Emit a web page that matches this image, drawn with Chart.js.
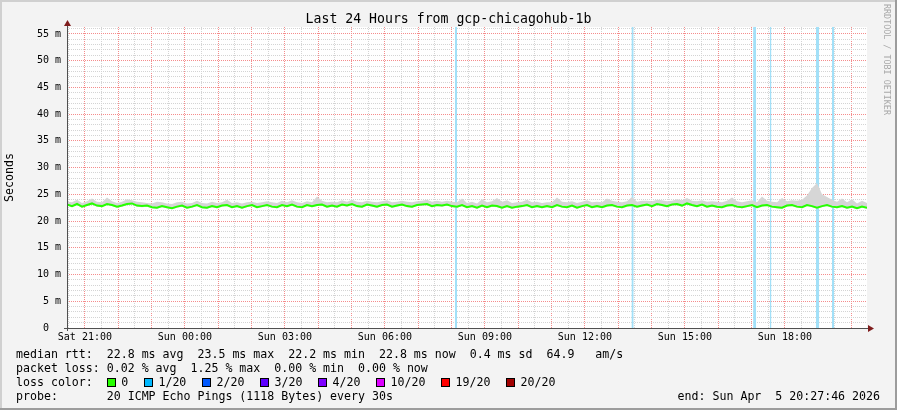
<!DOCTYPE html>
<html><head><meta charset="utf-8">
<script src="https://cdn.jsdelivr.net/npm/chart.js@4/dist/chart.umd.min.js"></script>
<style>
html,body{margin:0;padding:0;background:#f3f3f3;}
#wrap{position:relative;width:897px;height:410px;overflow:hidden;}
canvas{position:absolute;left:0;top:0;}
.t{position:absolute;font-family:'DejaVu Sans Mono',monospace;font-size:11.6px;line-height:14px;white-space:pre;color:#000;}
.sq{display:inline-block;width:9px;height:9px;box-sizing:border-box;border:1px solid #000;vertical-align:-1px;margin-right:5.6px;}
.it{display:inline-block;margin-right:15.5px;}
#ttl{position:absolute;left:0;top:11px;width:897px;text-align:center;font-family:'DejaVu Sans Mono',monospace;font-size:13.2px;line-height:16px;color:#000;white-space:pre;}
#wm{position:absolute;left:882px;top:4px;writing-mode:vertical-rl;font-family:'DejaVu Sans Mono',monospace;font-size:8.4px;color:#a8a8a8;white-space:pre;}
</style></head><body>
<div id="wrap">
<canvas id="c" width="897" height="410"></canvas>
<div id="ttl"></div>
<div id="wm"></div>
<div class="t" id="l1" style="left:16px;top:347px"></div>
<div class="t" id="l2" style="left:16px;top:361px"></div>
<div class="t" id="l3" style="left:16px;top:375px"></div>
<div class="t" id="l4" style="left:16px;top:389px"></div>
<div class="t" id="l5" style="right:17px;top:389px"></div>
</div>
<script>
// ---- data ----
const titleText = 'Last 24 Hours from gcp-chicagohub-1b';
const yAxisTitle = 'Seconds';
const sampleStepMin = 9;           // minutes between samples, sample 0 at start of window
const windowMinutes = 1440;        // 24 hours
const firstHourTick = 32.2333;     // Sat 21:00 minutes after window start (20:27:46)
const xTickLabels = ['Sat 21:00','Sun 00:00','Sun 03:00','Sun 06:00','Sun 09:00','Sun 12:00','Sun 15:00','Sun 18:00'];
const yMaxMs = 56.3;

const medianRtt = [
23.1,22.8,23.2,22.7,23.0,23.3,22.9,22.8,23.2,23.0,22.7,22.9,23.2,23.3,22.9,22.8,
22.9,22.6,22.5,22.8,22.6,22.4,22.7,22.9,22.5,22.7,23.0,22.6,22.5,22.8,22.6,22.9,23.0,22.6,22.8,22.5,
22.8,23.0,22.6,22.8,23.0,22.7,22.6,23.0,22.8,23.1,22.7,22.6,23.0,22.8,23.0,23.1,22.7,22.9,22.7,23.1,
22.9,23.2,22.8,22.7,23.1,22.9,22.7,23.0,23.1,22.7,22.9,23.1,22.8,22.7,23.0,23.1,23.2,22.8,23.0,22.9,
23.1,22.8,22.7,23.0,22.6,22.8,22.5,22.9,22.6,22.9,22.8,22.5,22.8,22.5,22.7,22.8,23.0,22.6,22.8,22.6,
22.8,22.6,23.0,22.7,22.6,22.9,22.5,22.8,23.0,22.6,22.8,22.6,22.9,23.0,22.7,22.6,22.9,23.0,22.7,22.9,
23.1,22.8,23.2,23.0,22.8,23.1,23.2,22.9,23.3,23.0,22.8,23.1,22.7,22.9,22.7,22.6,22.9,23.0,22.7,22.6,
22.8,23.0,22.6,22.9,23.0,22.7,22.6,22.5,22.9,23.0,22.7,22.6,23.0,22.8,22.5,22.8,23.0,22.7,22.6,22.8,
22.5,22.7,22.4,22.7,22.5];

const smokeMax = [
23.6,23.5,24.0,23.4,23.7,24.2,23.6,23.5,24.4,23.7,23.4,23.6,24.1,23.9,23.6,23.5,
23.4,23.3,23.6,23.5,23.3,23.2,23.5,23.6,23.3,23.4,23.8,23.4,23.3,23.6,23.4,23.5,24.0,23.4,23.5,23.3,
23.5,23.6,23.4,23.5,23.7,23.5,23.4,23.8,23.5,23.9,23.5,23.4,23.7,23.5,24.6,23.8,23.5,23.6,23.5,23.9,
23.6,24.0,23.6,23.5,23.8,23.6,23.5,23.7,23.9,23.5,23.6,23.8,23.6,23.5,23.7,23.8,24.0,23.6,23.8,23.6,
23.8,23.6,23.5,24.2,23.4,23.6,23.3,24.1,23.5,23.7,24.3,23.6,23.9,23.4,23.5,23.6,24.0,23.5,23.6,23.4,
23.5,23.5,24.4,23.6,23.5,23.7,23.4,23.6,23.9,23.5,23.6,23.5,24.2,23.8,23.6,23.5,23.7,24.5,23.6,23.8,
23.8,23.7,24.0,23.9,23.7,23.8,24.1,23.9,24.3,23.8,23.7,23.9,23.6,23.7,23.6,23.5,23.8,24.4,23.7,23.5,
23.7,23.9,23.5,24.6,23.8,23.6,23.5,24.3,23.7,23.9,23.8,24.0,24.8,26.2,27.1,25.0,24.5,24.0,23.6,24.2,
23.5,24.1,23.3,23.8,23.4];

const smokeMin = [
22.9,22.6,23.0,22.5,22.8,23.1,22.7,22.6,23.0,22.8,22.5,22.7,23.0,23.1,22.7,22.6,
22.7,22.4,22.3,22.6,22.4,22.2,22.5,22.7,22.3,22.5,22.8,22.4,22.3,22.6,22.4,22.7,22.8,22.4,22.6,22.3,
22.6,22.8,22.4,22.6,22.8,22.5,22.4,22.8,22.6,22.9,22.5,22.4,22.8,22.6,22.8,22.9,22.5,22.7,22.5,22.9,
22.7,23.0,22.6,22.5,22.9,22.7,22.5,22.8,22.9,22.5,22.7,22.9,22.6,22.5,22.8,22.9,23.0,22.6,22.8,22.7,
22.9,22.6,22.5,22.8,22.4,22.6,22.3,22.7,22.4,22.7,22.6,22.3,22.6,22.3,22.5,22.6,22.8,22.4,22.6,22.4,
22.6,22.4,22.8,22.5,22.4,22.7,22.3,22.6,22.8,22.4,22.6,22.4,22.7,22.8,22.5,22.4,22.7,22.8,22.5,22.7,
22.9,22.6,23.0,22.8,22.6,22.9,23.0,22.7,23.1,22.8,22.6,22.9,22.5,22.7,22.5,22.4,22.7,22.8,22.5,22.4,
22.6,22.8,22.4,22.7,22.8,22.5,22.4,22.3,22.7,22.8,22.5,22.4,22.8,22.6,22.3,22.6,22.8,22.5,22.4,22.6,
22.3,22.5,22.2,22.5,22.3];

// loss periods (minutes after window start), all at 1/20 loss
const lossStart = [698.4, 1016, 1235, 1265, 1348, 1377];
const lossEnd   = [702.0, 1020, 1240.5, 1268, 1354, 1381];

const lossLevels = ['0','1/20','2/20','3/20','4/20','10/20','19/20','20/20'];
const lossColors = ['#26ff00','#00b8ff','#0059ff','#5e00ff','#7e00ff','#dd00ff','#ff0000','#a10000'];

const statsLine1 = 'median rtt:  22.8 ms avg  23.5 ms max  22.2 ms min  22.8 ms now  0.4 ms sd  64.9   am/s';
const statsLine2 = 'packet loss: 0.02 % avg  1.25 % max  0.00 % min  0.00 % now';
const probeLine  = 'probe:       20 ICMP Echo Pings (1118 Bytes) every 30s';
const endLine    = 'end: Sun Apr  5 20:27:46 2026';
const watermark  = 'RRDTOOL / TOBI OETIKER';

// ---- text ----
document.getElementById('ttl').textContent = titleText;
document.getElementById('l1').textContent = statsLine1;
document.getElementById('l2').textContent = statsLine2;
document.getElementById('l4').textContent = probeLine;
document.getElementById('l5').textContent = endLine;
document.getElementById('wm').textContent = watermark;
const l3 = document.getElementById('l3');
l3.appendChild(document.createTextNode('loss color:  '));
lossLevels.forEach((lv, i) => {
  const it = document.createElement('span'); it.className = 'it';
  const sq = document.createElement('span'); sq.className = 'sq'; sq.style.background = lossColors[i];
  it.appendChild(sq); it.appendChild(document.createTextNode(lv));
  l3.appendChild(it);
});

// ---- build datasets ----
const pts = arr => arr.map((v, i) => ({x: i * sampleStepMin, y: v}));
const lossPts = [];
lossStart.forEach((s, i) => {
  lossPts.push({x: s, y: yMaxMs}, {x: lossEnd[i], y: yMaxMs}, {x: lossEnd[i], y: null});
});

const MONO = "'DejaVu Sans Mono', monospace";
const RED_GRID = '#f58c8c';
const GRAY_GRID = '#d4d4d4';

const deco = {
  id: 'deco',
  beforeDraw(chart) {
    const {ctx, chartArea: a, width: w, height: h} = chart;
    ctx.save();
    ctx.fillStyle = '#f3f3f3'; ctx.fillRect(0, 0, w, h);
    ctx.fillStyle = '#ffffff'; ctx.fillRect(a.left, a.top, a.right - a.left, a.bottom - a.top);
    ctx.fillStyle = '#d0d0d0'; ctx.fillRect(0, 0, w, 2); ctx.fillRect(0, 0, 2, h);
    ctx.fillStyle = '#9c9c9c'; ctx.fillRect(0, h - 2, w, 2); ctx.fillRect(w - 2, 0, 2, h);
    ctx.restore();
  },
  afterDraw(chart) {
    const {ctx, chartArea: a} = chart;
    const x0 = Math.round(a.left) + 0.5, y0 = Math.round(a.bottom) + 0.5;
    ctx.save();
    ctx.strokeStyle = '#505050'; ctx.lineWidth = 1;
    ctx.beginPath();
    ctx.moveTo(x0, a.top - 4); ctx.lineTo(x0, a.bottom + 3);
    ctx.moveTo(a.left - 3, y0); ctx.lineTo(a.right + 4, y0);
    ctx.stroke();
    ctx.fillStyle = '#7f1d1d';
    ctx.beginPath();
    ctx.moveTo(x0 - 3.5, a.top - 1); ctx.lineTo(x0 + 3.5, a.top - 1); ctx.lineTo(x0, a.top - 7); ctx.closePath(); ctx.fill();
    ctx.beginPath();
    ctx.moveTo(a.right + 1, y0 - 3.5); ctx.lineTo(a.right + 1, y0 + 3.5); ctx.lineTo(a.right + 7, y0); ctx.closePath(); ctx.fill();
    ctx.restore();
  }
};

new Chart(document.getElementById('c'), {
  type: 'line',
  data: {
    datasets: [
      {label: 'median', data: pts(medianRtt), borderColor: '#26ff00', borderWidth: 2, pointRadius: 0, fill: false, order: 1},
      {label: 'smokeHi', data: pts(smokeMax), borderColor: 'transparent', borderWidth: 1, pointRadius: 0, fill: '+1', backgroundColor: '#d6d6d6', order: 2},
      {label: 'smokeLo', data: pts(smokeMin), borderColor: 'transparent', borderWidth: 1, pointRadius: 0, fill: false, order: 2},
      {label: 'loss', data: lossPts, borderColor: 'transparent', borderWidth: 1, pointRadius: 0, fill: 'origin', spanGaps: false, backgroundColor: '#a2e0f8', order: 3}
    ]
  },
  options: {
    responsive: false,
    animation: false,
    events: [],
    layout: {padding: {left: 0, right: 30, top: 27, bottom: 62}},
    plugins: {
      legend: {display: false},
      tooltip: {enabled: false},
      title: {display: false}
    },
    scales: {
      x: {
        type: 'linear', min: 0, max: windowMinutes,
        afterFit(s) { s.height = 20; },
        afterBuildTicks(s) {
          const t = [];
          for (let v = firstHourTick - 30; v < windowMinutes; v += 30) t.push({value: v});
          s.ticks = t;
        },
        ticks: {
          autoSkip: false, maxRotation: 0, minRotation: 0, padding: 3, color: '#000',
          font: {family: MONO, size: 10},
          callback(v) {
            const k = (v - firstHourTick) / 180;
            const r = Math.round(k);
            return (Math.abs(k - r) < 1e-6 && r >= 0 && r < xTickLabels.length) ? xTickLabels[r] : '';
          }
        },
        grid: {
          drawTicks: false, lineWidth: 1,
          color(c) {
            const k = (c.tick.value - firstHourTick) / 60;
            return Math.abs(k - Math.round(k)) < 1e-6 ? RED_GRID : GRAY_GRID;
          }
        },
        border: {display: false, dash: [1, 1]}
      },
      y: {
        type: 'linear', min: 0, max: yMaxMs,
        afterFit(s) { s.width = 67; },
        afterBuildTicks(s) {
          const t = [];
          for (let v = 0; v <= Math.floor(yMaxMs); v++) t.push({value: v});
          s.ticks = t;
        },
        title: {display: true, text: yAxisTitle, color: '#000', font: {family: MONO, size: 11.6, lineHeight: 1.2}, padding: {top: 3, bottom: 0}},
        ticks: {
          autoSkip: false, padding: 6, color: '#000',
          font: {family: MONO, size: 10},
          callback(v) { return v % 5 === 0 ? (v === 0 ? '0  ' : v + ' m') : ''; }
        },
        grid: {
          drawTicks: false, lineWidth: 1,
          color(c) { return c.tick.value % 5 === 0 ? RED_GRID : GRAY_GRID; }
        },
        border: {display: false, dash: [1, 1]}
      }
    }
  },
  plugins: [deco]
});
</script>
</body></html>
